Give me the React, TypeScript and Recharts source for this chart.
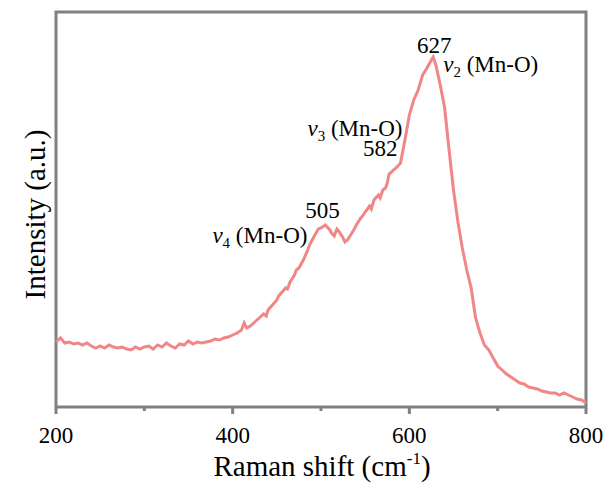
import { LineChart, Line, XAxis, YAxis, ReferenceDot, ReferenceArea } from "recharts";

// Raman spectrum (intensity in arbitrary units)
const ramanShift = [
	200, 205, 210, 215, 220, 225, 230, 235, 240, 245, 250, 255, 260, 265, 270,
	275, 280, 285, 290, 295, 300, 305, 310, 315, 320, 325, 330, 335, 340, 345,
	350, 355, 360, 365, 370, 375, 380, 385, 390, 395, 400, 405, 410, 413, 416,
	420, 425, 430, 435, 438, 440, 445, 450, 452, 455, 460, 462, 465, 470, 472,
	475, 480, 485, 487, 490, 495, 497, 500, 505, 510, 512, 515, 518, 520, 525,
	527, 530, 535, 537, 540, 545, 547, 550, 555, 557, 560, 563, 565, 567, 570,
	573, 575, 577, 580, 582, 585, 590, 595, 600, 605, 610, 615, 620, 625, 627,
	630, 635, 640, 645, 650, 655, 660, 665, 670, 675, 680, 685, 690, 695, 700,
	705, 710, 715, 720, 725, 730, 735, 740, 745, 750, 755, 760, 765, 770, 775,
	780, 785, 790, 795, 800,
];
const intensity = [
	65, 69, 64, 65, 63, 64, 62, 64, 61, 59, 61, 59, 62, 60, 59,
	60, 58, 57, 60, 58, 60, 61, 58, 62, 60, 64, 61, 59, 63, 62,
	66, 63, 65, 64, 65, 66, 68, 67, 69, 70, 72, 74, 77, 84, 79,
	81, 85, 89, 93, 91, 97, 102, 107, 111, 114, 119, 118, 125, 132, 137,
	139, 147, 157, 162, 167, 175, 178, 179, 182, 177, 174, 171, 178, 176, 169,
	165, 167, 174, 177, 182, 189, 191, 195, 201, 198, 207, 210, 212, 209, 217,
	219, 224, 233, 235, 237, 239, 244, 267, 292, 307, 317, 332, 339, 347, 350,
	342, 322, 299, 257, 217, 185, 159, 137, 119, 89, 74, 62, 57, 49, 41,
	37, 33, 30, 27, 24, 23, 20, 19, 18, 16, 15, 14, 14, 12, 14,
	12, 10, 8, 7, 4,
];
const xTicks = [200, 300, 400, 500, 600, 700, 800];
const majorTicks = [200, 400, 600, 800];

// Peak annotations: position, label and vibration mode index
const peaks = [
	{ shift: 505, label: "505", mode: "4" },
	{ shift: 582, label: "582", mode: "3" },
	{ shift: 627, label: "627", mode: "2" },
];

const data = ramanShift.map((s, i) => ({ shift: s, value: intensity[i] }));

const FONT = "Times New Roman, Liberation Serif, Times, serif";
const FRAME = "#808080";
const LINE = "#f08686";

const XTick = (props: { x?: number; y?: number; payload?: { value: number } }) => {
	const x = Number(props.x ?? 0);
	const y = Number(props.y ?? 0);
	const v = props.payload?.value ?? 0;
	const major = majorTicks.includes(v);
	return (
		<g>
			<line x1={x} y1={y + 1} x2={x} y2={y + (major ? 7 : 4)} stroke={FRAME} strokeWidth={3} />
			{major && (
				<text x={x} y={y + 36} textAnchor="middle" fontSize={23} style={{ fontFamily: FONT }} fill="#000">
					{v}
				</text>
			)}
		</g>
	);
};

const XTitle = (props: { viewBox?: { x: number; y: number; width: number; height: number } }) => {
	const vb = props.viewBox ?? { x: 0, y: 0, width: 0, height: 0 };
	return (
		<text x={vb.x + vb.width / 2 + 1} y={vb.y + 69} textAnchor="middle" fontSize={29} style={{ fontFamily: FONT }} fill="#000">
			Raman shift (cm
			<tspan fontSize={17} dy={-12}>-1</tspan>
			<tspan dy={12}>)</tspan>
		</text>
	);
};

const YTitle = (props: { viewBox?: { x: number; y: number; width: number; height: number } }) => {
	const vb = props.viewBox ?? { x: 0, y: 0, width: 0, height: 0 };
	const x = vb.x + 45;
	const y = vb.y + vb.height / 2 + 5;
	return (
		<text x={x} y={y} transform={`rotate(-90, ${x}, ${y})`} textAnchor="middle" fontSize={29} style={{ fontFamily: FONT }} fill="#000">
			Intensity (a.u.)
		</text>
	);
};

const ModeText = ({ x, y, n, anchor }: { x: number; y: number; n: string; anchor: "start" | "end" }) => (
	<text x={x} y={y} textAnchor={anchor} fontSize={23} style={{ fontFamily: FONT }} fill="#000">
		<tspan fontStyle="italic">v</tspan>
		<tspan fontSize={15} dy={5}>{n}</tspan>
		<tspan dy={-5}> (Mn-O)</tspan>
	</text>
);

// Label drawn relative to the peak point located by the chart scales
const PeakLabel = (props: { viewBox?: { x: number; y: number }; peak: (typeof peaks)[number] }) => {
	const cx = props.viewBox?.x ?? 0;
	const cy = props.viewBox?.y ?? 0;
	const { peak } = props;
	const t = { fontSize: 23, style: { fontFamily: FONT }, fill: "#000" };
	if (peak.shift === 505) {
		return (
			<g>
				<text x={cx - 3} y={cy - 7} textAnchor="middle" {...t}>{peak.label}</text>
				<ModeText x={cx - 18} y={cy + 18} n={peak.mode} anchor="end" />
			</g>
		);
	}
	if (peak.shift === 582) {
		return (
			<g>
				<text x={cx + 4} y={cy - 14} textAnchor="end" {...t}>{peak.label}</text>
				<ModeText x={cx + 9} y={cy - 34} n={peak.mode} anchor="end" />
			</g>
		);
	}
	return (
		<g>
			<text x={cx + 1} y={cy - 4} textAnchor="middle" {...t}>{peak.label}</text>
			<ModeText x={cx + 10} y={cy + 15} n={peak.mode} anchor="start" />
		</g>
	);
};

export default function App() {
	return (
		<div style={{ position: "absolute", left: 0, top: 0, background: "#fff" }}>
			<LineChart width={608} height={483} data={data} margin={{ top: 12, right: 22, bottom: 0, left: 0 }}>
				<XAxis
					dataKey="shift"
					type="number"
					domain={[200, 800]}
					ticks={xTicks}
					height={76}
					axisLine={false}
					tickLine={false}
					tickSize={0}
					tickMargin={0}
					tick={<XTick />}
					label={<XTitle />}
				/>
				<YAxis type="number" domain={[0, 395]} width={56} axisLine={false} tick={false} tickLine={false} label={<YTitle />} />
				{/* plot frame */}
				<ReferenceArea x1={200} x2={800} y1={0} y2={395} fill="none" stroke={FRAME} strokeWidth={3} ifOverflow="visible" />
				<Line
					dataKey="value"
					type="linear"
					stroke={LINE}
					strokeWidth={3}
					dot={false}
					isAnimationActive={false}
				/>
				{peaks.map((p) => (
					<ReferenceDot
						key={p.shift}
						x={p.shift}
						y={intensity[ramanShift.indexOf(p.shift)]}
						r={0}
						fill="none"
						stroke="none"
						label={<PeakLabel peak={p} />}
					/>
				))}
			</LineChart>
		</div>
	);
}
